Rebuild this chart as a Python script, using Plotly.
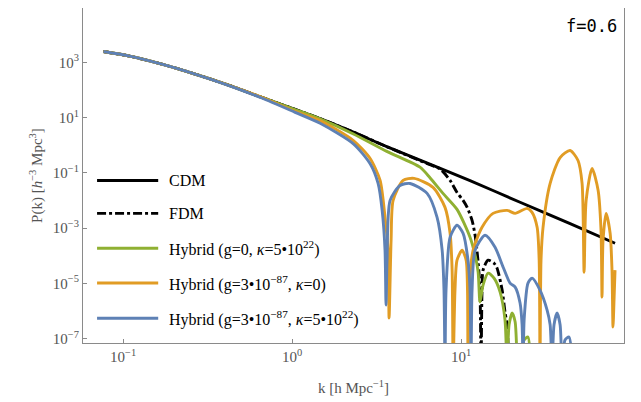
import numpy as np
import plotly.graph_objects as go

# ---- data (log10 k, log10 P) ----
cdm_logk = [-1.116, -0.969, -0.771, -0.574, -0.377, -0.179, 0.018, 0.166, 0.363, 0.560, 0.797,
            1.053, 1.349, 1.645, 1.911]
cdm_logp = [3.394, 3.238, 2.939, 2.578, 2.181, 1.733, 1.300, 0.965, 0.475, -0.050, -0.640,
            -1.280, -2.065, -2.840, -3.549]

fdm_logk = [-1.116, -0.969, -0.771, -0.574, -0.377, -0.179, 0.018, 0.166, 0.363, 0.560, 0.797,
            0.876, 0.935, 0.976, 1.012, 1.036, 1.065, 1.083, 1.101, 1.112, 1.118, 1.124, 1.130,
            1.160, 1.195, 1.213, 1.243, 1.260, 1.272, 1.284, 1.30]
fdm_logp = [3.394, 3.238, 2.939, 2.578, 2.181, 1.733, 1.300, 0.965, 0.475, -0.050, -0.660,
            -0.860, -1.274, -1.708, -1.996, -2.249, -2.718, -3.260, -4.235, -5.245, -8.0, -5.245, -4.523,
            -4.162, -4.271, -4.451, -5.245, -6.040, -6.500, -8.0, -9.0]

green_logk = [-1.116, -0.969, -0.771, -0.574, -0.377, -0.179, 0.018, 0.166, 0.363, 0.560, 0.757,
              0.817, 0.893, 0.976, 1.053, 1.083, 1.101, 1.112, 1.130, 1.160, 1.195, 1.231, 1.260,
              1.272, 1.284, 1.302, 1.320, 1.337, 1.373, 1.396, 1.414, 1.45]
green_logp = [3.394, 3.238, 2.939, 2.578, 2.181, 1.733, 1.295, 0.955, 0.410, -0.220, -0.794,
              -1.184, -1.744, -2.321, -3.332, -3.980, -4.596, -5.679, -5.065, -4.632, -4.812, -5.318, -6.329,
              -8.0, -6.500, -6.076, -6.400, -8.0, -7.050, -6.942, -8.0, -9.0]

orange_logk = [-1.116, -0.969, -0.771, -0.574, -0.377, -0.179, 0.018, 0.166, 0.363, 0.462, 0.521,
               0.550, 0.568, 0.574, 0.586, 0.598, 0.657, 0.722, 0.834, 0.905, 0.935, 0.947, 0.953,
               0.964, 0.976, 1.006, 1.030, 1.038, 1.041, 1.047, 1.071, 1.124, 1.189, 1.272, 1.320,
               1.391, 1.420, 1.450, 1.462, 1.467, 1.473, 1.485, 1.527, 1.586, 1.645, 1.692, 1.716,
               1.728, 1.740, 1.775, 1.811, 1.828, 1.834, 1.840, 1.858, 1.882, 1.893, 1.899, 1.905, 1.911]
orange_logp = [3.394, 3.238, 2.939, 2.578, 2.181, 1.733, 1.230, 0.892, 0.170, -0.480, -1.274,
               -2.610, -3.801, -6.256, -3.440, -1.996, -1.274, -1.200, -1.527, -2.249, -3.188, -4.523, -8.0,
               -5.245, -4.162, -3.801, -4.162, -5.245, -8.0, -5.245, -3.801, -2.971, -2.466, -2.357, -2.466,
               -2.285, -2.430, -2.971, -4.162, -8.0, -4.162, -2.971, -1.383, -0.444, -0.191, -0.552, -1.383,
               -4.596, -1.996, -0.841, -1.635, -3.079, -5.498, -3.440, -2.466, -3.188, -4.523, -6.581, -5.606,
               -4.523]

blue_logk = [-1.116, -0.969, -0.771, -0.574, -0.377, -0.179, 0.018, 0.166, 0.363, 0.462, 0.509,
             0.533, 0.550, 0.556, 0.562, 0.580, 0.639, 0.698, 0.799, 0.858, 0.888, 0.899, 0.905,
             0.911, 0.935, 0.976, 1.012, 1.041, 1.053, 1.059, 1.065, 1.083, 1.142, 1.201, 1.249,
             1.290, 1.320, 1.349, 1.361, 1.367, 1.373, 1.396, 1.420, 1.467, 1.509, 1.527, 1.538,
             1.550, 1.568, 1.586, 1.598, 1.615, 1.639, 1.663, 1.70]
blue_logp = [3.394, 3.238, 2.939, 2.578, 2.170, 1.710, 1.191, 0.794, 0.051, -0.671, -1.383,
             -2.357, -3.801, -5.787, -4.162, -1.996, -1.455, -1.383, -1.744, -2.610, -3.801, -5.245, -8.0,
             -5.245, -3.332, -2.899, -3.188, -4.162, -5.245, -8.0, -5.245, -3.801, -3.260, -3.693, -4.415,
             -4.993, -5.137, -5.715, -6.500, -8.0, -6.329, -4.993, -4.812, -5.245, -5.968, -6.500, -8.0,
             -6.500, -6.076, -6.500, -8.0, -7.050, -6.942, -8.0, -9.0]

series = [
    ("CDM", cdm_logk, cdm_logp, "black", "solid"),
    ("FDM", fdm_logk, fdm_logp, "black", "dashdot"),
    ("Hybrid (g=0, <i>κ</i>=5•10<sup>22</sup>)", green_logk, green_logp, "#8FB032", "solid"),
    ("Hybrid (g=3•10<sup>−87</sup>, <i>κ</i>=0)", orange_logk, orange_logp, "#E19C24", "solid"),
    ("Hybrid (g=3•10<sup>−87</sup>, <i>κ</i>=5•10<sup>22</sup>)", blue_logk, blue_logp, "#5E81B5", "solid"),
]

xtick_vals = [0.1, 1, 10]
xtick_text = ["10<sup>−1</sup>", "10<sup>0</sup>", "10<sup>1</sup>"]
ytick_vals = [1e3, 1e1, 1e-1, 1e-3, 1e-5, 1e-7]
ytick_text = ["10<sup>3</sup>", "10<sup>1</sup>", "10<sup>−1</sup>", "10<sup>−3</sup>",
              "10<sup>−5</sup>", "10<sup>−7</sup>"]

LW = 2.9

fig = go.Figure()
for name, lk, lp, color, dash in series:
    fig.add_trace(go.Scatter(
        x=10 ** np.array(lk), y=10 ** np.array(lp), mode="lines", name=name,
        line=dict(color=color, width=LW, dash=dash, shape="spline", smoothing=0.7),
        showlegend=False,
    ))

# manual legend (long line samples as in the reference)
leg_y = [0.485, 0.387, 0.283, 0.179, 0.074]
for (name, lk, lp, color, dash), yy in zip(series, leg_y):
    fig.add_shape(type="line", xref="paper", yref="paper", x0=0.026, x1=0.139, y0=yy, y1=yy,
                  line=dict(color=color, width=LW, dash=dash))
    fig.add_annotation(xref="paper", yref="paper", x=0.155, y=yy, text=name, showarrow=False,
                       xanchor="left", yanchor="middle",
                       font=dict(family="Liberation Serif", size=16, color="black"))

fig.add_annotation(xref="paper", yref="paper", x=0.991, y=0.947, text="f=0.6", showarrow=False,
                   xanchor="right", yanchor="middle",
                   font=dict(family="DejaVu Sans Mono", size=17, color="black"))

axis_common = dict(type="log", showgrid=False, zeroline=False, showline=True, linecolor="#8a8a8a",
                   linewidth=1, mirror=True, ticks="inside", ticklen=4, tickcolor="#8a8a8a",
                   tickfont=dict(family="Liberation Serif", size=15, color="#555555"))

fig.update_xaxes(**axis_common, range=[-1.237, 1.964], tickvals=xtick_vals, ticktext=xtick_text,
                 title=dict(text="k [h Mpc<sup>−1</sup>]", standoff=18,
                            font=dict(family="Liberation Serif", size=15, color="#555555")))
fig.update_yaxes(**axis_common, range=[-7.16, 4.97], tickvals=ytick_vals, ticktext=ytick_text,
                 title=dict(text="P(k) [<i>h</i><sup>−3</sup> Mpc<sup>3</sup>]", standoff=6,
                            font=dict(family="Liberation Serif", size=15, color="#555555")))

# page body adds an 8px margin, so the figure is 8px smaller and shifted accordingly
fig.update_layout(width=633, height=394, margin=dict(l=75, r=17, t=0, b=59),
                  paper_bgcolor="white", plot_bgcolor="white")

fig.write_html("out.html")
